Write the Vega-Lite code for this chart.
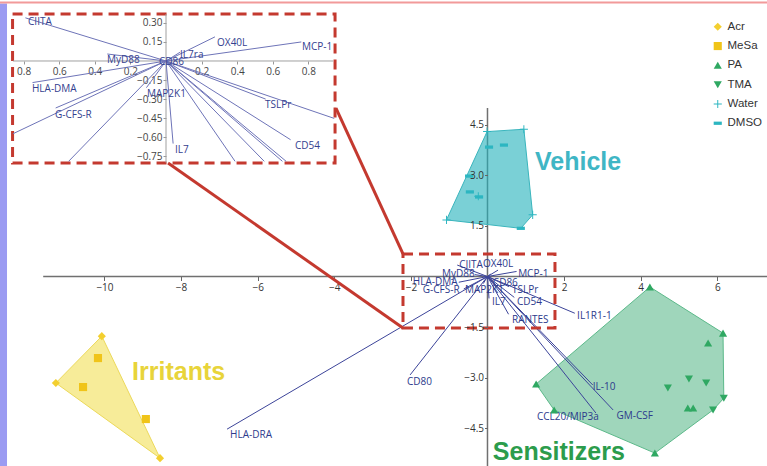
{
  "$schema": "https://vega.github.io/schema/vega-lite/v6.json",
  "width": 767,
  "height": 466,
  "autosize": "none",
  "padding": 0,
  "background": "white",
  "config": {"view": {"stroke": null}, "axis": {"grid": false, "title": null, "domain": false}},
  "datasets": {
    "mainFrame": [
      {"x1": -11.6, "x2": 7.298, "y1": 0, "y2": 0},
      {"x1": 0, "x2": 0, "y1": 5.0, "y2": -5.623}
    ],
    "strip": [{"x1": -12.728, "x2": -12.545, "y1": 8.1, "y2": -5.623}],
    "topLine": [{"x1": -12.728, "x2": 7.298, "y1": 8.13, "y2": 8.13}],
    "insetFrame": [
      {"x1": -0.86, "x2": 0.94, "y1": 0, "y2": 0},
      {"x1": 0, "x2": 0, "y1": 0.37, "y2": -0.8}
    ],
    "loadings": [
      {"name": "CIITA", "ox": 0, "oy": 0, "x": -0.79, "y": 0.34, "lx": -0.74, "ly": 0.34},
      {"name": "OX40L", "ox": 0, "oy": 0, "x": 0.275, "y": 0.19, "lx": -0.12, "ly": 0.37},
      {"name": "MCP-1", "ox": 0, "oy": 0, "x": 0.76, "y": 0.15, "lx": 0.8, "ly": 0.07},
      {"name": "IL7ra", "ox": 0, "oy": 0, "x": 0.08, "y": 0.07, "lx": null, "ly": null},
      {"name": "MyD88", "ox": 0, "oy": 0, "x": -0.33, "y": 0.055, "lx": -1.19, "ly": 0.07},
      {"name": "HLA-DMA", "ox": 0, "oy": 0, "x": -0.75, "y": -0.17, "lx": -1.95, "ly": -0.16},
      {"name": "G-CFS-R", "ox": 0, "oy": 0, "x": -0.62, "y": -0.37, "lx": -1.69, "ly": -0.4},
      {"name": "MAP2K1", "ox": 0, "oy": 0, "x": -0.11, "y": -0.21, "lx": -0.59, "ly": -0.4},
      {"name": "CD86", "ox": 0, "oy": 0, "x": 0.05, "y": -0.03, "lx": 0.14, "ly": -0.19},
      {"name": "TSLPr", "ox": 0, "oy": 0, "x": 0.56, "y": -0.3, "lx": 0.64, "ly": -0.4},
      {"name": "IL7", "ox": 0, "oy": 0, "x": 0.04, "y": -0.65, "lx": 0.12, "ly": -0.76},
      {"name": "CD54", "ox": 0, "oy": 0, "x": 0.7, "y": -0.62, "lx": 0.77, "ly": -0.76},
      {"name": "RANTES", "ox": 0, "oy": 0, "x": 0.55, "y": -1.12, "lx": 0.64, "ly": -1.29},
      {"name": "IL1R1-1", "ox": 0, "oy": 0, "x": 2.28, "y": -1.09, "lx": 2.34, "ly": -1.17},
      {"name": "IL-10", "ox": 0, "oy": 0, "x": 2.75, "y": -3.22, "lx": 2.75, "ly": -3.28},
      {"name": "GM-CSF", "ox": 0, "oy": 0, "x": 3.28, "y": -3.96, "lx": 3.37, "ly": -4.14},
      {"name": "CCL20/MIP3a", "ox": 0, "oy": 0, "x": 2.83, "y": -4.05, "lx": 1.29, "ly": -4.17},
      {"name": "CD80", "ox": 0, "oy": 0, "x": -2.02, "y": -2.92, "lx": -2.1, "ly": -3.13},
      {"name": "HLA-DRA", "ox": 0, "oy": 0, "x": -6.8, "y": -4.53, "lx": -6.72, "ly": -4.7}
    ],
    "insetLines": [
      {"name": "CIITA", "ox": 0, "oy": 0, "x": -0.79, "y": 0.34},
      {"name": "OX40L", "ox": 0, "oy": 0, "x": 0.275, "y": 0.19},
      {"name": "MCP-1", "ox": 0, "oy": 0, "x": 0.76, "y": 0.15},
      {"name": "IL7ra", "ox": 0, "oy": 0, "x": 0.08, "y": 0.07},
      {"name": "MyD88", "ox": 0, "oy": 0, "x": -0.33, "y": 0.055},
      {"name": "HLA-DMA", "ox": 0, "oy": 0, "x": -0.75, "y": -0.17},
      {"name": "G-CFS-R", "ox": 0, "oy": 0, "x": -0.62, "y": -0.37},
      {"name": "MAP2K1", "ox": 0, "oy": 0, "x": -0.11, "y": -0.21},
      {"name": "CD86", "ox": 0, "oy": 0, "x": 0.05, "y": -0.03},
      {"name": "TSLPr", "ox": 0, "oy": 0, "x": 0.56, "y": -0.3},
      {"name": "IL7", "ox": 0, "oy": 0, "x": 0.04, "y": -0.65},
      {"name": "CD54", "ox": 0, "oy": 0, "x": 0.7, "y": -0.62},
      {"name": "RANTES", "ox": 0, "oy": 0, "x": 0.388, "y": -0.79},
      {"name": "IL1R1-1", "ox": 0, "oy": 0, "x": 0.945, "y": -0.452},
      {"name": "IL-10", "ox": 0, "oy": 0, "x": 0.675, "y": -0.79},
      {"name": "GM-CSF", "ox": 0, "oy": 0, "x": 0.654, "y": -0.79},
      {"name": "CCL20/MIP3a", "ox": 0, "oy": 0, "x": 0.552, "y": -0.79},
      {"name": "CD80", "ox": 0, "oy": 0, "x": -0.547, "y": -0.79},
      {"name": "HLA-DRA", "ox": 0, "oy": 0, "x": -0.86, "y": -0.573}
    ],
    "insetLabels": [
      {"name": "CIITA", "lx": -0.775, "ly": 0.307},
      {"name": "OX40L", "lx": 0.287, "ly": 0.144},
      {"name": "MCP-1", "lx": 0.764, "ly": 0.11},
      {"name": "IL7ra", "lx": 0.079, "ly": 0.047},
      {"name": "MyD88", "lx": -0.331, "ly": 0.008},
      {"name": "HLA-DMA", "lx": -0.753, "ly": -0.22},
      {"name": "G-CFS-R", "lx": -0.624, "ly": -0.425},
      {"name": "MAP2K1", "lx": -0.107, "ly": -0.26},
      {"name": "IL7", "lx": 0.051, "ly": -0.7},
      {"name": "TSLPr", "lx": 0.556, "ly": -0.346},
      {"name": "CD54", "lx": 0.725, "ly": -0.669},
      {"name": "CD86", "lx": -0.039, "ly": -0.008}
    ],
    "pts": [
      {"g": "Acr", "x": -10.07, "y": -1.77},
      {"g": "Acr", "x": -11.27, "y": -3.16},
      {"g": "Acr", "x": -8.55, "y": -5.39},
      {"g": "MeSa", "x": -10.17, "y": -2.42},
      {"g": "MeSa", "x": -10.56, "y": -3.28},
      {"g": "MeSa", "x": -8.92, "y": -4.23},
      {"g": "PA", "x": 4.24, "y": -0.31},
      {"g": "PA", "x": 6.15, "y": -1.68},
      {"g": "PA", "x": 5.76, "y": -1.97},
      {"g": "PA", "x": 1.27, "y": -3.19},
      {"g": "PA", "x": 1.74, "y": -3.96},
      {"g": "PA", "x": 4.37, "y": -5.24},
      {"g": "PA", "x": 5.23, "y": -3.9},
      {"g": "PA", "x": 5.37, "y": -3.9},
      {"g": "TMA", "x": 5.26, "y": -3.04},
      {"g": "TMA", "x": 5.71, "y": -3.16},
      {"g": "TMA", "x": 4.71, "y": -3.31},
      {"g": "TMA", "x": 6.17, "y": -3.61},
      {"g": "TMA", "x": 5.89, "y": -3.96},
      {"g": "Water", "x": -0.01, "y": 4.3},
      {"g": "Water", "x": 0.95, "y": 4.37},
      {"g": "Water", "x": 1.18, "y": 1.83},
      {"g": "Water", "x": -1.07, "y": 1.68},
      {"g": "Water", "x": -0.24, "y": 2.38},
      {"g": "DMSO", "x": 0.04, "y": 3.84},
      {"g": "DMSO", "x": 0.43, "y": 3.9},
      {"g": "DMSO", "x": -0.48, "y": 2.98},
      {"g": "DMSO", "x": -0.46, "y": 2.51},
      {"g": "DMSO", "x": -0.22, "y": 2.36},
      {"g": "DMSO", "x": 0.87, "y": 1.43}
    ],
    "hullIrr": [
      {"o": 1, "x": -10.07, "y": -1.77},
      {"o": 2, "x": -8.55, "y": -5.39},
      {"o": 3, "x": -11.27, "y": -3.16}
    ],
    "hullSens": [
      {"o": 1, "x": 4.24, "y": -0.31},
      {"o": 2, "x": 6.15, "y": -1.68},
      {"o": 3, "x": 6.17, "y": -3.61},
      {"o": 4, "x": 5.89, "y": -3.96},
      {"o": 5, "x": 4.37, "y": -5.24},
      {"o": 6, "x": 1.74, "y": -3.96},
      {"o": 7, "x": 1.27, "y": -3.19}
    ],
    "hullVeh": [
      {"o": 1, "x": -0.01, "y": 4.3},
      {"o": 2, "x": 0.95, "y": 4.37},
      {"o": 3, "x": 1.18, "y": 1.83},
      {"o": 4, "x": 0.87, "y": 1.43},
      {"o": 5, "x": -1.07, "y": 1.68}
    ],
    "groupLabels": [
      {"label": "Vehicle", "x": 1.24, "y": 3.4},
      {"label": "Irritants", "x": -9.28, "y": -2.83},
      {"label": "Sensitizers", "x": 0.14, "y": -5.21}
    ],
    "boxes": [
      {"x1": -12.4, "x2": -3.98, "y1": 7.79, "y2": 3.368},
      {"x1": -2.206, "x2": 1.762, "y1": 0.668, "y2": -1.528}
    ],
    "connectors": [
      {"x1": -3.956, "y1": 5.0, "x2": -2.206, "y2": 0.668},
      {"x1": -8.34, "y1": 3.368, "x2": -2.206, "y2": -1.528}
    ]
  },
  "layer": [
    {
      "layer": [
        {
          "data": {"name": "mainFrame"},
          "mark": {"type": "rule", "color": "#707070", "strokeWidth": 1.5},
          "encoding": {
            "x": {"field": "x1", "type": "quantitative", "scale": {"domain": [-12.728, 7.298], "nice": false, "zero": false},
              "axis": {"orient": "bottom", "offset": -189.5, "values": [-10, -8, -6, -4, -2, 2, 4, 6], "format": "d", "domain": false, "grid": false, "title": null, "tickSize": 4, "tickColor": "#666", "labelFontSize": 10, "labelColor": "#333", "labelFont": "Open Sans", "labelPadding": 2, "labelOverlap": false, "labelFlush": false}},
            "x2": {"field": "x2"},
            "y": {"field": "y1", "type": "quantitative", "scale": {"domain": [-5.623, 8.205], "nice": false, "zero": false},
              "axis": {"orient": "left", "offset": -487.5, "zindex": 1, "values": [-4.5, -3, -1.5, 1.5, 3, 4.5], "format": ".1f", "domain": false, "grid": false, "title": null, "tickSize": 3, "tickColor": "#666", "labelFontSize": 10, "labelColor": "#333", "labelFont": "Open Sans", "labelPadding": 1, "labelOverlap": false, "labelFlush": false}},
            "y2": {"field": "y2"}
          }
        },
        {
          "data": {"name": "strip"},
          "mark": {"type": "rect", "color": "#9b9bf2"},
          "encoding": {
            "x": {"field": "x1", "type": "quantitative"},
            "x2": {"field": "x2"},
            "y": {"field": "y1", "type": "quantitative"},
            "y2": {"field": "y2"}
          }
        },
        {
          "data": {"name": "topLine"},
          "mark": {"type": "rule", "color": "#f29a9a", "strokeWidth": 2},
          "encoding": {
            "x": {"field": "x1", "type": "quantitative"},
            "x2": {"field": "x2"},
            "y": {"field": "y1", "type": "quantitative"},
            "y2": {"field": "y2"}
          }
        },
        {
          "data": {"name": "hullIrr"},
          "mark": {"type": "line", "interpolate": "linear-closed", "fill": "#f2df55", "fillOpacity": 0.6, "stroke": "#ecd95a", "strokeWidth": 1},
          "encoding": {
            "x": {"field": "x", "type": "quantitative"},
            "y": {"field": "y", "type": "quantitative"},
            "order": {"field": "o", "type": "quantitative"}
          }
        },
        {
          "data": {"name": "hullSens"},
          "mark": {"type": "line", "interpolate": "linear-closed", "fill": "#3fae78", "fillOpacity": 0.5, "stroke": "#5cb98a", "strokeWidth": 1},
          "encoding": {
            "x": {"field": "x", "type": "quantitative"},
            "y": {"field": "y", "type": "quantitative"},
            "order": {"field": "o", "type": "quantitative"}
          }
        },
        {
          "data": {"name": "hullVeh"},
          "mark": {"type": "line", "interpolate": "linear-closed", "fill": "#22b1ba", "fillOpacity": 0.6, "stroke": "#3ab5bd", "strokeWidth": 1},
          "encoding": {
            "x": {"field": "x", "type": "quantitative"},
            "y": {"field": "y", "type": "quantitative"},
            "order": {"field": "o", "type": "quantitative"}
          }
        },
        {
          "data": {"name": "loadings"},
          "mark": {"type": "rule", "color": "#3c4499", "strokeWidth": 1},
          "encoding": {
            "x": {"field": "ox", "type": "quantitative"},
            "y": {"field": "oy", "type": "quantitative"},
            "x2": {"field": "x"},
            "y2": {"field": "y"}
          }
        },
        {
          "data": {"name": "loadings"},
          "mark": {"type": "text", "align": "left", "baseline": "middle", "fontSize": 10, "font": "Open Sans", "color": "#2d3a8c"},
          "encoding": {
            "x": {"field": "lx", "type": "quantitative"},
            "y": {"field": "ly", "type": "quantitative"},
            "text": {"field": "name", "type": "nominal"}
          }
        },
        {
          "data": {"name": "pts"},
          "mark": {"type": "point", "filled": true, "opacity": 1, "strokeWidth": 0, "size": 66},
          "encoding": {
            "x": {"field": "x", "type": "quantitative"},
            "y": {"field": "y", "type": "quantitative"},
            "color": {"field": "g", "type": "nominal",
              "scale": {"domain": ["Acr", "MeSa", "PA", "TMA", "Water", "DMSO"], "range": ["#f3cf2f", "#f0c419", "#2fa862", "#2fa862", "#2cb6c1", "#2cb6c1"]},
              "legend": {"orient": "none", "legendX": 712, "legendY": 21, "title": null, "labelFontSize": 11.5, "labelColor": "#333", "labelFont": "Liberation Sans", "rowPadding": 6.3, "symbolSize": 66, "symbolStrokeWidth": 0, "padding": 0, "labelOffset": 4}},
            "shape": {"field": "g", "type": "nominal",
              "scale": {"domain": ["Acr", "MeSa", "PA", "TMA", "Water", "DMSO"], "range": ["diamond", "square", "triangle-up", "triangle-down", "M-1,-0.12L-0.12,-0.12L-0.12,-1L0.12,-1L0.12,-0.12L1,-0.12L1,0.12L0.12,0.12L0.12,1L-0.12,1L-0.12,0.12L-1,0.12Z", "M-1,-0.4L1,-0.4L1,0.4L-1,0.4Z"]}}
          }
        },
        {
          "data": {"name": "groupLabels"},
          "mark": {"type": "text", "align": "left", "baseline": "middle", "fontSize": 25, "fontWeight": "bold", "font": "Liberation Sans"},
          "encoding": {
            "x": {"field": "x", "type": "quantitative"},
            "y": {"field": "y", "type": "quantitative"},
            "text": {"field": "label", "type": "nominal"},
            "fill": {"field": "label", "type": "nominal", "legend": null,
              "scale": {"domain": ["Vehicle", "Irritants", "Sensitizers"], "range": ["#3fb6c5", "#e8d43a", "#2c9c4c"]}}
          }
        },
        {
          "data": {"name": "boxes"},
          "mark": {"type": "rect", "fillOpacity": 0, "stroke": "#c4392f", "strokeWidth": 3, "strokeDash": [10, 6]},
          "encoding": {
            "x": {"field": "x1", "type": "quantitative"},
            "x2": {"field": "x2"},
            "y": {"field": "y1", "type": "quantitative"},
            "y2": {"field": "y2"}
          }
        },
        {
          "data": {"name": "connectors"},
          "mark": {"type": "rule", "color": "#c4392f", "strokeWidth": 3},
          "encoding": {
            "x": {"field": "x1", "type": "quantitative"},
            "x2": {"field": "x2"},
            "y": {"field": "y1", "type": "quantitative"},
            "y2": {"field": "y2"}
          }
        }
      ]
    },
    {
      "layer": [
        {
          "data": {"name": "insetFrame"},
          "mark": {"type": "rule", "color": "#a0a0a0", "strokeWidth": 1},
          "encoding": {
            "x": {"field": "x1", "type": "quantitative", "scale": {"domain": [-0.9326, 3.3764], "nice": false, "zero": false},
              "axis": {"orient": "bottom", "offset": -405, "values": [-0.8, -0.6, -0.4, -0.2, 0.2, 0.4, 0.6, 0.8], "labelExpr": "format(abs(datum.value), '.1f')", "domain": false, "grid": false, "title": null, "tickSize": 3, "tickColor": "#999", "labelFontSize": 10, "labelColor": "#444", "labelFont": "Open Sans", "labelPadding": 2, "labelOverlap": false, "labelFlush": false}},
            "x2": {"field": "x2"},
            "y": {"field": "y1", "type": "quantitative", "scale": {"domain": [-3.189, 0.4803], "nice": false, "zero": false},
              "axis": {"orient": "left", "offset": -166, "values": [0.3, 0.15, -0.15, -0.3, -0.45, -0.6, -0.75], "format": ".2f", "domain": false, "grid": false, "title": null, "tickSize": 3, "tickColor": "#999", "labelFontSize": 10, "labelColor": "#444", "labelFont": "Open Sans", "labelPadding": 1, "labelOverlap": false, "labelFlush": false}},
            "y2": {"field": "y2"}
          }
        },
        {
          "data": {"name": "insetLines"},
          "mark": {"type": "rule", "color": "#6e74b8", "strokeWidth": 1},
          "encoding": {
            "x": {"field": "ox", "type": "quantitative"},
            "y": {"field": "oy", "type": "quantitative"},
            "x2": {"field": "x"},
            "y2": {"field": "y"}
          }
        },
        {
          "data": {"name": "insetLabels"},
          "mark": {"type": "text", "align": "left", "baseline": "middle", "fontSize": 10, "font": "Open Sans", "color": "#34418f"},
          "encoding": {
            "x": {"field": "lx", "type": "quantitative"},
            "y": {"field": "ly", "type": "quantitative"},
            "text": {"field": "name", "type": "nominal"}
          }
        }
      ]
    }
  ],
  "resolve": {"scale": {"x": "independent", "y": "independent"}}
}
